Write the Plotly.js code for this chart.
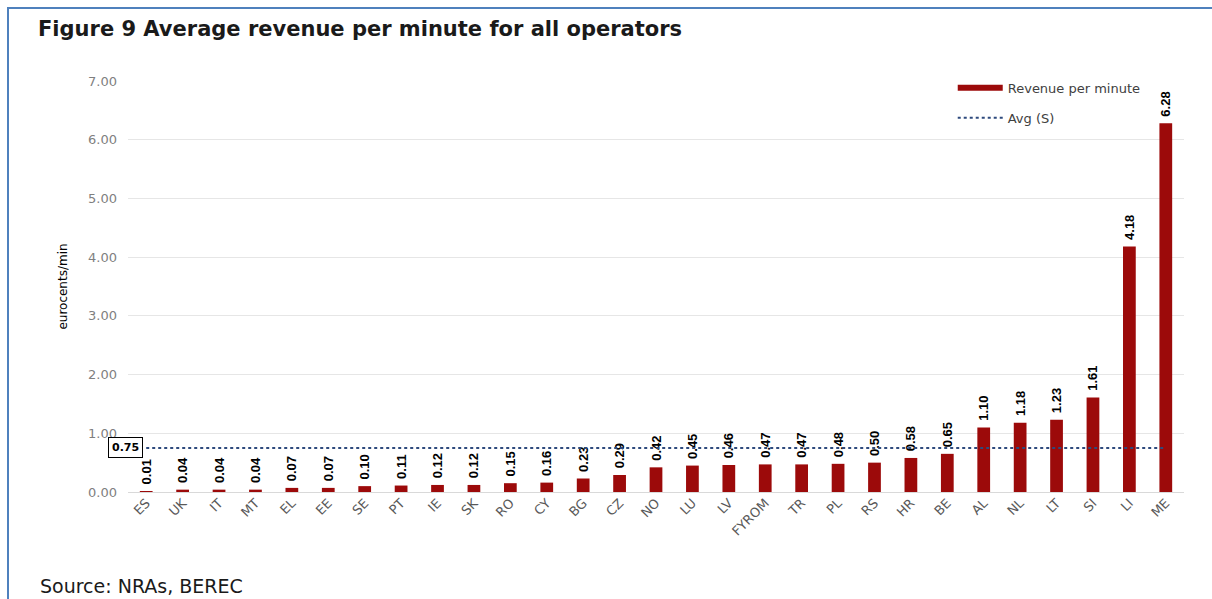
<!DOCTYPE html>
<html>
<head>
<meta charset="utf-8">
<script src="https://cdn.plot.ly/plotly-3.0.1.min.js"></script>
<style>
  html, body { margin: 0; padding: 0; background: #ffffff; }
  #wrap { position: relative; width: 1212px; height: 599px; overflow: hidden; }
  #chart { position: absolute; left: 0; top: 0; width: 1212px; height: 599px; }
  #frame { position: absolute; left: 7px; top: 7px; width: 1300px; height: 700px;
           border-left: 2px solid #4f81bd; border-top: 2px solid #4f81bd; pointer-events: none; }
</style>
</head>
<body>
<div id="wrap">
  <div id="chart"></div>
  <div id="frame"></div>
</div>
<script>
// ---- data ----
const countries = ["ES","UK","IT","MT","EL","EE","SE","PT","IE","SK","RO","CY","BG","CZ","NO","LU","LV","FYROM","TR","PL","RS","HR","BE","AL","NL","LT","SI","LI","ME"];
const revenuePerMinute = [0.01,0.04,0.04,0.04,0.07,0.07,0.10,0.11,0.12,0.12,0.15,0.16,0.23,0.29,0.42,0.45,0.46,0.47,0.47,0.48,0.50,0.58,0.65,1.10,1.18,1.23,1.61,4.18,6.28];
const avgValue = 0.75;
const yTicks = [0,1,2,3,4,5,6,7];

const barColor = "#9c0a0a";
const avgColor = "#2e4a7d";
const arial = "Liberation Sans, Arial, sans-serif";
const wide = "DejaVu Sans, Verdana, sans-serif";

const avgX = [countries[0], countries[countries.length - 1]];
const avgY = [avgValue, avgValue];

const traces = [
  {
    type: "bar",
    x: countries,
    y: revenuePerMinute,
    name: "Revenue per minute",
    legendgroup: "rev",
    showlegend: false,
    marker: { color: barColor },
    texttemplate: "\u00a0%{y:.2f}",
    textposition: "outside",
    textangle: -90,
    constraintext: "none",
    cliponaxis: false,
    textfont: { family: arial, size: 13, color: "#000000", weight: "bold" },
    hoverinfo: "x+y"
  },
  {
    type: "scatter",
    mode: "lines",
    x: [null],
    y: [null],
    name: "Revenue per minute",
    legendgroup: "rev",
    line: { color: barColor, width: 6 },
    hoverinfo: "skip"
  },
  {
    type: "scatter",
    mode: "lines",
    x: avgX,
    y: avgY,
    name: "Avg (S)",
    legendgroup: "avg",
    line: { color: avgColor, width: 2, dash: "dot" },
    hoverinfo: "y"
  }
];

const layout = {
  width: 1212,
  height: 599,
  margin: { l: 128, r: 28, t: 81, b: 107 },
  paper_bgcolor: "rgba(0,0,0,0)",
  plot_bgcolor: "#ffffff",
  bargap: 0.65,
  font: { family: wide, size: 12, color: "#595959" },
  title: {
    text: "<b>Figure 9 Average revenue per minute for all operators</b>",
    font: { family: wide, size: 21, color: "#1a1a1a" },
    xref: "container", yref: "container",
    x: 38 / 1212, xanchor: "left",
    y: 1 - 29 / 599, yanchor: "middle"
  },
  xaxis: {
    type: "category",
    categoryorder: "array",
    categoryarray: countries,
    tickangle: -45,
    tickfont: { family: wide, size: 13, color: "#595959" },
    showgrid: false,
    showline: false,
    zeroline: false,
    ticks: "",
    automargin: false
  },
  yaxis: {
    range: [0, 7],
    tickvals: yTicks,
    tickformat: ".2f",
    tickfont: { family: wide, size: 13, color: "#7f7f7f" },
    showgrid: true,
    gridcolor: "#e6e6e6",
    gridwidth: 1,
    zeroline: true,
    zerolinecolor: "#d9d9d9",
    zerolinewidth: 1,
    showline: false,
    ticks: "",
    ticklabelstandoff: 10,
    automargin: false,
    title: {
      text: "eurocents/min",
      font: { family: wide, size: 12, color: "#000000" },
      standoff: 17
    }
  },
  legend: {
    x: 0.781, xanchor: "left",
    y: 1.02, yanchor: "top",
    bgcolor: "rgba(255,255,255,0)",
    font: { family: wide, size: 13, color: "#404040" },
    itemwidth: 45,
    traceorder: "grouped",
    tracegroupgap: 10
  },
  annotations: [
    {
      xref: "paper", yref: "y",
      x: (143 - 128) / 1056, y: avgValue,
      text: "<b>" + avgValue.toFixed(2) + "</b>",
      showarrow: false,
      xanchor: "right", yanchor: "middle",
      font: { family: wide, size: 11, color: "#000000" },
      bgcolor: "#ffffff",
      bordercolor: "#000000",
      borderwidth: 1,
      borderpad: 3
    },
    {
      xref: "paper", yref: "paper",
      x: (38 - 128) / 1056, xanchor: "left",
      y: (492 - 586) / 411, yanchor: "middle",
      text: "Source: NRAs, BEREC",
      showarrow: false,
      font: { family: wide, size: 19, color: "#1a1a1a" }
    }
  ],
  showlegend: true
};

Plotly.newPlot("chart", traces, layout, { displayModeBar: false });
</script>
</body>
</html>
